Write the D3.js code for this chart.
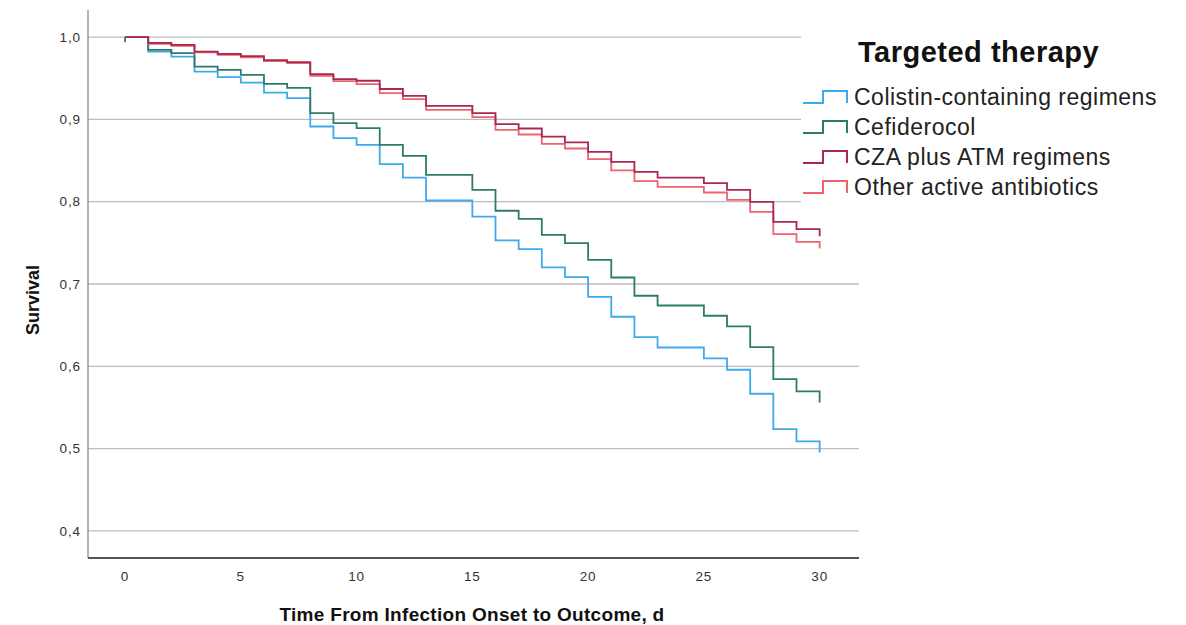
<!DOCTYPE html>
<html>
<head>
<meta charset="utf-8">
<script src="https://cdn.jsdelivr.net/npm/d3@7"></script>
<style>
  body { margin: 0; background: #fff; }
  svg { display: block; font-family: "Liberation Sans", Arial, sans-serif; }
</style>
</head>
<body>
<div id="chart"></div>
<script>
// days 0..30, survival after events of that day
const days = d3.range(0, 31);
const seriesNames = ["Colistin-containing regimens", "Cefiderocol", "CZA plus ATM regimens", "Other active antibiotics"];
const seriesColors = ["#3fa9f0", "#2d7b68", "#a72953", "#f0626e"];

const colistin = [1.0, 0.9825, 0.9764, 0.9582, 0.9514, 0.9448, 0.9327, 0.9259, 0.8914, 0.8773, 0.8691,
  0.8457, 0.8294, 0.8015, 0.8015, 0.782, 0.7529, 0.7424, 0.7203, 0.7084, 0.6844,
  0.6602, 0.6355, 0.6228, 0.6228, 0.6095, 0.5958, 0.5666, 0.5237, 0.5087, 0.4953];
const cefiderocol = [1.0, 0.9846, 0.9805, 0.9643, 0.9603, 0.9542, 0.9433, 0.9384, 0.9077, 0.8955, 0.8894,
  0.8691, 0.8558, 0.8327, 0.8327, 0.8145, 0.789, 0.7792, 0.7598, 0.7497, 0.7294,
  0.7079, 0.6857, 0.6739, 0.6739, 0.6614, 0.6484, 0.6233, 0.5844, 0.5694, 0.556];
const czaAtm = [1.0, 0.993, 0.9906, 0.9825, 0.9797, 0.977, 0.972, 0.9696, 0.955, 0.949, 0.947,
  0.937, 0.9287, 0.9165, 0.9165, 0.9077, 0.8943, 0.889, 0.8792, 0.872, 0.8606,
  0.8485, 0.8363, 0.8294, 0.8294, 0.8226, 0.8145, 0.7999, 0.7756, 0.7667, 0.758];
const otherActive = [1.0, 0.992, 0.9895, 0.9815, 0.9785, 0.9755, 0.971, 0.9686, 0.953, 0.9465, 0.943,
  0.932, 0.9247, 0.9117, 0.9117, 0.9028, 0.8874, 0.8817, 0.8703, 0.8647, 0.8518,
  0.838, 0.825, 0.818, 0.818, 0.8112, 0.8023, 0.7877, 0.7606, 0.7513, 0.743];
const seriesValues = [colistin, cefiderocol, czaAtm, otherActive];

// censored mark at start (Cefiderocol)
const censorMarks = [{ series: 1, day: 0, value: 1.0 }];

const xTicks = [0, 5, 10, 15, 20, 25, 30];
const yTicks = [0.4, 0.5, 0.6, 0.7, 0.8, 0.9, 1.0];

const width = 1186, height = 625;
const svg = d3.select("#chart").append("svg")
  .attr("width", width)
  .attr("height", height);

const x = d3.scaleLinear().domain([-1.6, 31.7]).range([88, 859]);
const y = d3.scaleLinear().domain([0.367, 1.033]).range([558, 10]);

// gridlines
svg.append("g").selectAll("line")
  .data(yTicks)
  .enter()
  .append("line")
  .attr("x1", 88)
  .attr("x2", 859)
  .attr("y1", d => y(d))
  .attr("y2", d => y(d))
  .style("stroke", "#bdbdbd")
  .style("stroke-width", 1.3);

// legend background hides the grid, not the curves
svg.append("rect")
  .attr("x", 801).attr("y", 0)
  .attr("width", width - 801).attr("height", 255)
  .style("fill", "#fff");

// axes
svg.append("line")
  .attr("x1", 88).attr("x2", 88)
  .attr("y1", 10).attr("y2", 558)
  .style("stroke", "#8a8a8a")
  .style("stroke-width", 1.3);
svg.append("line")
  .attr("x1", 88).attr("x2", 859)
  .attr("y1", 558).attr("y2", 558)
  .style("stroke", "#555")
  .style("stroke-width", 2);

const fmt = d3.format(".1f");
svg.append("g").selectAll("text")
  .data(yTicks)
  .enter()
  .append("text")
  .attr("x", 81)
  .attr("y", d => y(d))
  .attr("dy", "0.35em")
  .attr("text-anchor", "end")
  .style("font-size", "13.5px")
  .style("letter-spacing", "0.9px")
  .style("fill", "#333")
  .text(d => fmt(d).replace(".", ","));

svg.append("g").selectAll("text")
  .data(xTicks)
  .enter()
  .append("text")
  .attr("x", d => x(d))
  .attr("y", 576)
  .attr("dy", "0.35em")
  .attr("text-anchor", "middle")
  .style("font-size", "13.5px")
  .style("letter-spacing", "0.9px")
  .style("fill", "#333")
  .text(d => d);

svg.append("text")
  .attr("x", 472)
  .attr("y", 621)
  .attr("text-anchor", "middle")
  .style("font-size", "19px")
  .style("font-weight", "bold")
  .style("letter-spacing", "0.3px")
  .style("fill", "#111")
  .text("Time From Infection Onset to Outcome, d");

svg.append("text")
  .attr("transform", "translate(39,300) rotate(-90)")
  .attr("text-anchor", "middle")
  .style("font-size", "18px")
  .style("font-weight", "bold")
  .style("fill", "#111")
  .text("Survival");

// survival curves
const line = d3.line()
  .x(d => x(d[0]))
  .y(d => y(d[1]))
  .curve(d3.curveStepAfter);

const order = [0, 1, 3, 2];
svg.append("g").selectAll("path")
  .data(order)
  .enter()
  .append("path")
  .attr("d", i => line(days.map((d, k) => [d, seriesValues[i][k]])))
  .style("fill", "none")
  .style("stroke", i => seriesColors[i])
  .style("stroke-width", 1.8);

svg.append("g").selectAll("line")
  .data(censorMarks)
  .enter()
  .append("line")
  .attr("x1", d => x(d.day))
  .attr("x2", d => x(d.day))
  .attr("y1", d => y(d.value))
  .attr("y2", d => y(d.value) + 5)
  .style("stroke", d => seriesColors[d.series])
  .style("stroke-width", 1.8);

// legend
const legend = svg.append("g");

legend.append("text")
  .attr("x", 858)
  .attr("y", 62)
  .style("font-size", "29px")
  .style("font-weight", "bold")
  .style("letter-spacing", "0.5px")
  .style("fill", "#111")
  .text("Targeted therapy");

const items = legend.selectAll(".item")
  .data(seriesNames)
  .enter()
  .append("g")
  .attr("class", "item")
  .attr("transform", (d, i) => "translate(0," + (97 + i * 30) + ")");

items.append("path")
  .attr("d", "M803,6H823V-6H847V6")
  .style("fill", "none")
  .style("stroke", (d, i) => seriesColors[i])
  .style("stroke-width", 2);

items.append("text")
  .attr("x", 854)
  .attr("dy", "0.35em")
  .style("font-size", "23px")
  .style("letter-spacing", "0.5px")
  .style("fill", "#222")
  .text(d => d);
</script>
</body>
</html>
